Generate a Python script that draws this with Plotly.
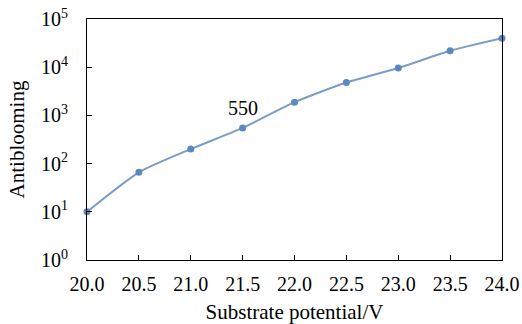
import plotly.graph_objects as go

x_vals = [20.0, 20.5, 21.0, 21.5, 22.0, 22.5, 23.0, 23.5, 24.0]
antiblooming = [10, 66, 200, 550, 1880, 4800, 9600, 22000, 40000]
x_ticks = [20.0, 20.5, 21.0, 21.5, 22.0, 22.5, 23.0, 23.5, 24.0]
x_tick_labels = ["20.0", "20.5", "21.0", "21.5", "22.0", "22.5", "23.0", "23.5", "24.0"]
y_ticks = [1, 10, 100, 1000, 10000, 100000]
y_tick_labels = ["10<sup>0</sup>", "10<sup>1</sup>", "10<sup>2</sup>", "10<sup>3</sup>", "10<sup>4</sup>", "10<sup>5</sup>"]

font = "Liberation Serif, Times New Roman, serif"

fig = go.Figure()
fig.add_trace(go.Scatter(
    x=x_vals, y=antiblooming, mode="lines+markers",
    line=dict(color="#7b9dc7", width=2, shape="spline", smoothing=0.6),
    marker=dict(color="#5b89bd", size=7),
    showlegend=False, cliponaxis=False,
))
fig.add_annotation(x=21.5, y=3.16, xref="x", yref="y", text="550", showarrow=False,
                   font=dict(family=font, size=20, color="black"))

fig.update_layout(
    width=522, height=324,
    margin=dict(l=87, r=20, t=19, b=64),
    paper_bgcolor="white", plot_bgcolor="white",
    font=dict(family=font, size=20, color="black"),
    xaxis=dict(
        range=[20.0, 24.0], tickvals=x_ticks, ticktext=x_tick_labels,
        ticks="inside", ticklen=5, tickcolor="black", showgrid=False, zeroline=False,
        showline=True, linecolor="black", linewidth=1, mirror=True, automargin=False,
        title=dict(text="Substrate potential/V", font=dict(family=font, size=21), standoff=14),
        tickfont=dict(family=font, size=20), ticklabelstandoff=6,
    ),
    yaxis=dict(
        type="log", range=[0, 5], tickvals=y_ticks, ticktext=y_tick_labels,
        ticks="inside", ticklen=5, tickcolor="black", showgrid=False, zeroline=False,
        showline=True, linecolor="black", linewidth=1, mirror=True, automargin=False,
        title=dict(text="Antiblooming", font=dict(family=font, size=21), standoff=10),
        tickfont=dict(family=font, size=20), ticklabelstandoff=14,
    ),
)

fig.write_html("out.html", config={"displayModeBar": False},
               post_script="document.body.style.margin='0';document.body.style.padding='0';")
